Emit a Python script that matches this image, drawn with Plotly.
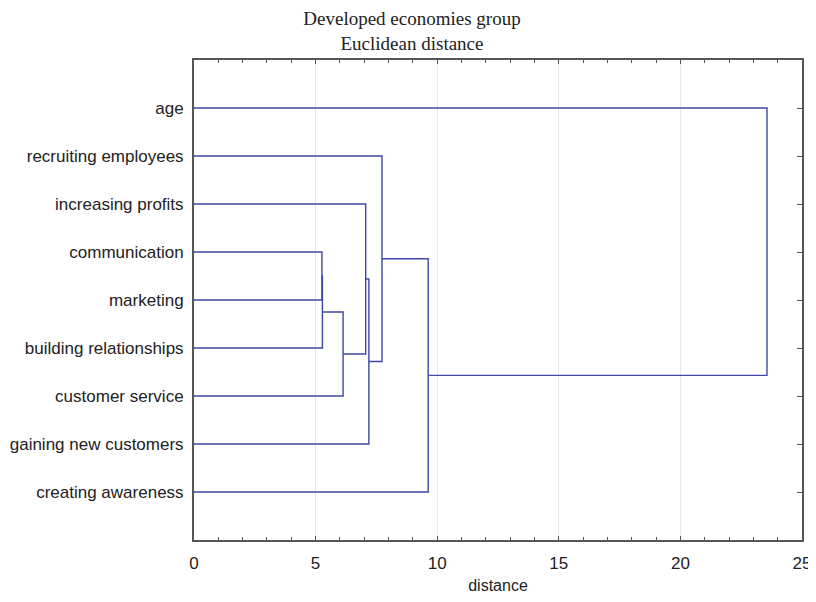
import plotly.graph_objects as go

# leaves listed bottom to top
leaves = ["creating awareness", "gaining new customers", "customer service",
          "building relationships", "marketing", "communication",
          "increasing profits", "recruiting employees", "age"]

# successive joins; "C1".. refer to the cluster made at that step
join_left = ["communication", "C1", "C2", "C3", "C4", "C5", "C6", "C7"]
join_right = ["marketing", "building relationships", "customer service",
              "increasing profits", "gaining new customers",
              "recruiting employees", "creating awareness", "age"]
join_dist = [5.26, 5.28, 6.13, 7.06, 7.19, 7.73, 9.63, 23.56]

line_col = "#3F48A8"
axis_col = "#555555"

# position and height of each node
ypos = {name: i + 1 for i, name in enumerate(leaves)}
height = {name: 0 for name in leaves}

xs, ys = [], []
for k, (a, b, d) in enumerate(zip(join_left, join_right, join_dist)):
    xs += [height[a], d, d, height[b], None]
    ys += [ypos[a], ypos[a], ypos[b], ypos[b], None]
    name = "C%d" % (k + 1)
    ypos[name] = (ypos[a] + ypos[b]) / 2
    height[name] = d

fig = go.Figure()
fig.add_trace(go.Scatter(x=xs, y=ys, mode="lines",
                         line=dict(color=line_col, width=1.4),
                         showlegend=False, hoverinfo="skip"))
# empty trace to hold the right-hand axis ticks
fig.add_trace(go.Scatter(x=[None], y=[None], yaxis="y2", showlegend=False))

# page body adds an 8px margin all round, so keep the figure inside the window
W, H = 808, 586
fig.update_layout(
    width=W, height=H,
    margin=dict(l=186, r=14, t=52, b=54),
    plot_bgcolor="white", paper_bgcolor="white",
    font=dict(family="Liberation Sans, Arial, sans-serif", size=17, color="#222"),
    title=dict(text="Developed economies group<br>Euclidean distance",
               x=0.5, xanchor="center", y=1 - 17 / H, yanchor="middle",
               font=dict(family="Liberation Serif, DejaVu Serif, serif", size=19, color="#222")),
    xaxis=dict(range=[0, 25], tickvals=[0, 5, 10, 15, 20, 25],
               showgrid=True, gridcolor="#e8e8e8", gridwidth=1,
               ticks="inside", ticklen=4, tickcolor=axis_col,
               minor=dict(dtick=1, ticks="inside", ticklen=3, tickcolor=axis_col, showgrid=False),
               showline=True, linecolor=axis_col, linewidth=2, mirror="ticks",
               zeroline=False, automargin=False, ticklabelstandoff=7,
               ticklabeloverflow="allow",
               title=dict(text="distance", standoff=11, font=dict(size=16)),
               tickfont=dict(size=17)),
    yaxis=dict(range=[0, 10], tickvals=list(range(1, 10)), ticktext=leaves,
               showgrid=False, zeroline=False, ticks="",
               showline=True, linecolor=axis_col, linewidth=2, mirror=True,
               automargin=False, ticklabelstandoff=5, tickfont=dict(size=17)),
    yaxis2=dict(range=[0, 10], tickvals=list(range(1, 10)), overlaying="y",
                side="right", showticklabels=False, showgrid=False,
                zeroline=False, ticks="inside", ticklen=5, tickcolor=axis_col,
                showline=False, automargin=False),
)

fig.write_html("out.html")
